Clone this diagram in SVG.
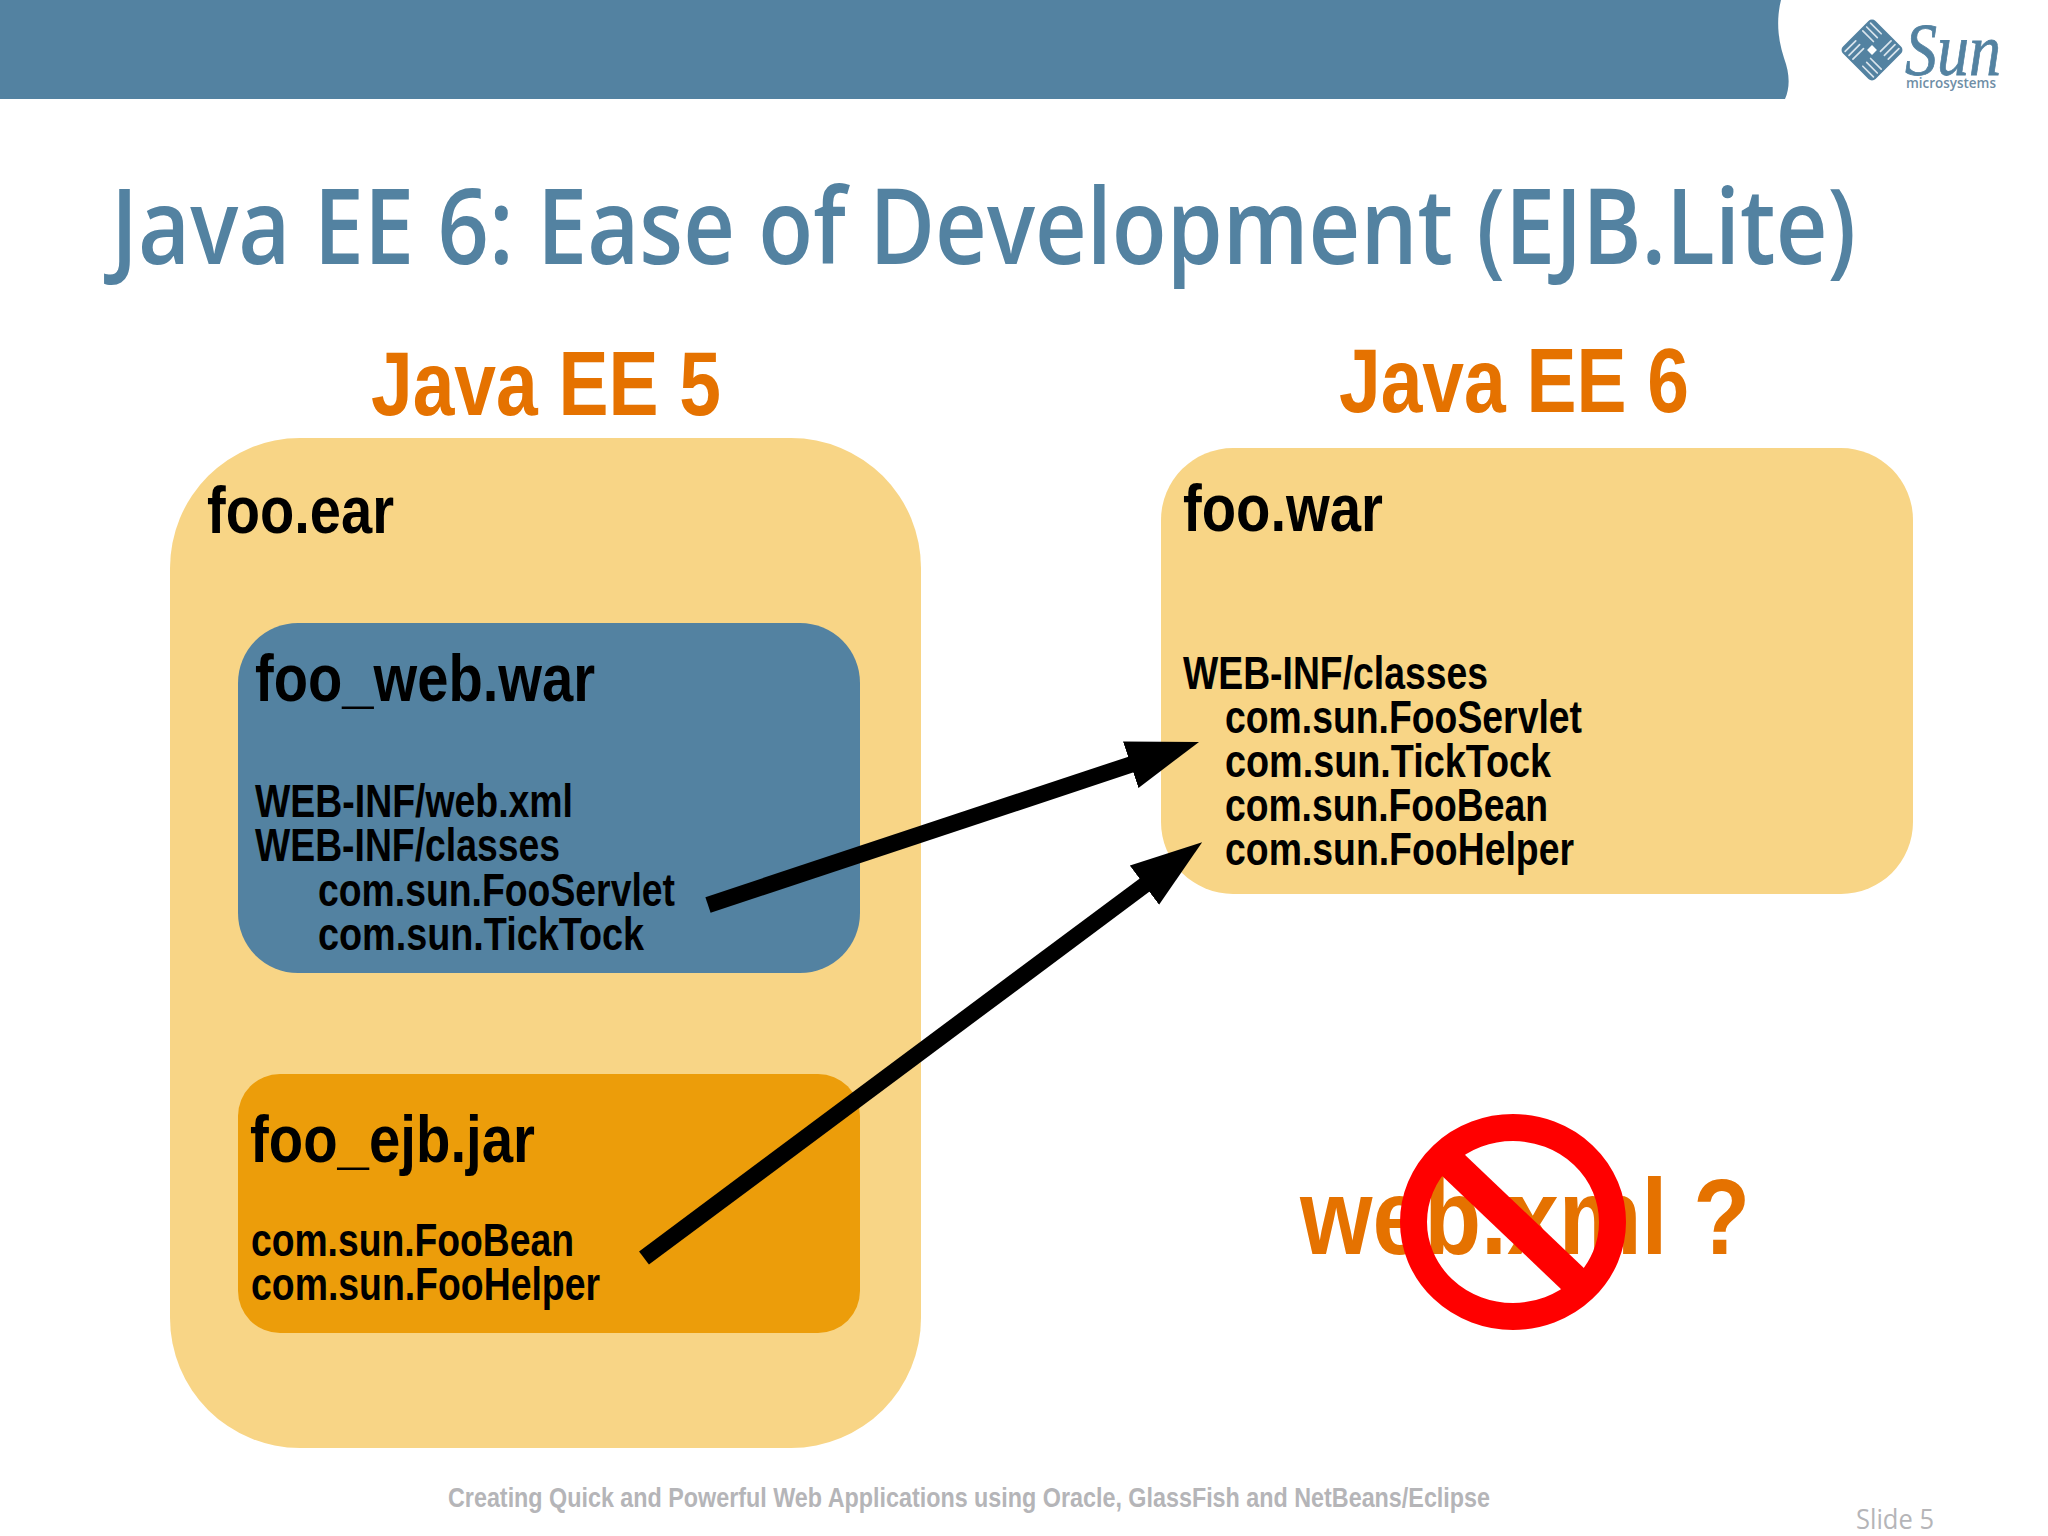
<svg xmlns="http://www.w3.org/2000/svg" width="2048" height="1536" viewBox="0 0 2048 1536">
<style>
text{font-family:"Liberation Sans",Arial,sans-serif}
.h{font-weight:bold;font-size:90px;fill:#e57200}
.n{font-size:66px;font-weight:bold;fill:#000}
.b{font-size:46px;font-weight:bold;fill:#000}
.a{stroke:#000;stroke-width:16.5;fill:none}
.st{stroke:#d9e4ec;stroke-width:1.7;fill:none;stroke-linecap:round}
</style>
<defs>
<marker id="ah" markerUnits="userSpaceOnUse" markerWidth="74" markerHeight="50" refX="2" refY="24.5" orient="auto"><path d="M0 0L72 24.5L0 49Z" fill="#000"/></marker>
</defs>
<rect width="2048" height="1536" fill="#fff"/>
<g id="header">
<path d="M0 0H1781C1776 20 1778 40 1784 58C1790 74 1790 88 1785 99H0Z" fill="#5382a1"/>
</g>
<g id="logo">
<g transform="translate(1872 50) rotate(45)">
<rect x="-23" y="-23" width="46" height="46" rx="5" fill="#5382a1"/>
<path class="st" d="M-20 -7H-5M-20 -12.5H-5M-20 -18H-5M7 -20V-5M12.5 -20V-5M18 -20V-5M20 7H5M20 12.5H5M20 18H5M-7 20V5M-12.5 20V5M-18 20V5"/>
<rect x="-3.5" y="-3.5" width="7" height="7" fill="#fff"/>
</g>
<text x="1905" y="75" textLength="96" lengthAdjust="spacingAndGlyphs" style="font-family:'Liberation Serif',serif;font-style:italic;font-size:74px;fill:#5382a1;stroke:#5382a1;stroke-width:.8">Sun</text>
<text x="1906" y="88" textLength="90" lengthAdjust="spacingAndGlyphs" style="font-family:'Open Sans',sans-serif;font-size:14px;font-weight:600;fill:#6f8ea6">microsystems</text>
</g>
<text id="title" x="111" y="264" textLength="1745" lengthAdjust="spacingAndGlyphs" style="font-family:'Open Sans',sans-serif;font-weight:600;font-size:105px;fill:#5382a1">Java EE 6: Ease of Development (EJB.Lite)</text>
<text class="h" x="371" y="415" textLength="350" lengthAdjust="spacingAndGlyphs">Java EE 5</text>
<text class="h" x="1339" y="412" textLength="350" lengthAdjust="spacingAndGlyphs">Java EE 6</text>
<g id="foo-ear">
<rect x="170" y="438" width="751" height="1010" rx="130" fill="#f8d586"/>
<text class="n" x="207" y="533" textLength="187" lengthAdjust="spacingAndGlyphs">foo.ear</text>
</g>
<g id="foo-web-war">
<rect x="238" y="623" width="622" height="350" rx="60" fill="#5382a1"/>
<text class="n" x="255" y="701" textLength="340" lengthAdjust="spacingAndGlyphs">foo_web.war</text>
<text class="b" x="255" y="817" textLength="318" lengthAdjust="spacingAndGlyphs">WEB-INF/web.xml</text>
<text class="b" x="255" y="861" textLength="305" lengthAdjust="spacingAndGlyphs">WEB-INF/classes</text>
<text class="b" x="318" y="906" textLength="357" lengthAdjust="spacingAndGlyphs">com.sun.FooServlet</text>
<text class="b" x="318" y="950" textLength="326" lengthAdjust="spacingAndGlyphs">com.sun.TickTock</text>
</g>
<g id="foo-ejb-jar">
<rect x="238" y="1074" width="622" height="259" rx="42" fill="#ec9d0a"/>
<text class="n" x="250" y="1162" textLength="285" lengthAdjust="spacingAndGlyphs">foo_ejb.jar</text>
<text class="b" x="251" y="1256" textLength="323" lengthAdjust="spacingAndGlyphs">com.sun.FooBean</text>
<text class="b" x="251" y="1300" textLength="349" lengthAdjust="spacingAndGlyphs">com.sun.FooHelper</text>
</g>
<g id="foo-war">
<rect x="1161" y="448" width="752" height="446" rx="72" fill="#f8d586"/>
<text class="n" x="1183" y="531" textLength="200" lengthAdjust="spacingAndGlyphs">foo.war</text>
<text class="b" x="1183" y="689" textLength="305" lengthAdjust="spacingAndGlyphs">WEB-INF/classes</text>
<text class="b" x="1225" y="733" textLength="357" lengthAdjust="spacingAndGlyphs">com.sun.FooServlet</text>
<text class="b" x="1225" y="777" textLength="326" lengthAdjust="spacingAndGlyphs">com.sun.TickTock</text>
<text class="b" x="1225" y="821" textLength="323" lengthAdjust="spacingAndGlyphs">com.sun.FooBean</text>
<text class="b" x="1225" y="865" textLength="349" lengthAdjust="spacingAndGlyphs">com.sun.FooHelper</text>
</g>
<g id="connectors">
<line class="a" x1="708" y1="905" x2="1132.6" y2="764" marker-end="url(#ah)"/>
<line class="a" x1="644" y1="1258" x2="1146" y2="884" marker-end="url(#ah)"/>
</g>
<g id="no-web-xml">
<text x="1300" y="1254" textLength="450" lengthAdjust="spacingAndGlyphs" style="font-weight:bold;font-size:108px;fill:#e57200">web.xml ?</text>
<ellipse cx="1513" cy="1222" rx="99.5" ry="94.5" fill="none" stroke="#f00" stroke-width="27"/>
<line x1="1451" y1="1163" x2="1575" y2="1281" stroke="#f00" stroke-width="31"/>
</g>
<text x="448" y="1507" textLength="1042" lengthAdjust="spacingAndGlyphs" style="font-size:28px;font-weight:bold;fill:#b5b5b8">Creating Quick and Powerful Web Applications using Oracle, GlassFish and NetBeans/Eclipse</text>
<text x="1856" y="1529" textLength="78" lengthAdjust="spacingAndGlyphs" style="font-family:'Open Sans',sans-serif;font-size:27px;fill:#b5b5b8">Slide 5</text>
</svg>
